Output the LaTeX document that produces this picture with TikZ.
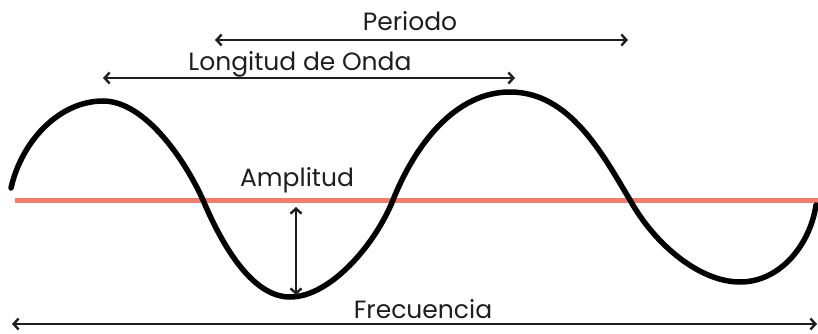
\documentclass[tikz,border=0pt]{standalone}
\usepackage{fontspec}
\setmainfont{Poppins}
\usetikzlibrary{arrows.meta}
\definecolor{salmon}{HTML}{F07E6E}
\definecolor{ink}{HTML}{1E1E1E}
\tikzset{
  dimarrow/.style={draw=ink, line width=2.2pt, {Straight Barb[length=5pt,width=11pt,line width=2.4pt]}-{Straight Barb[length=5pt,width=11pt,line width=2.4pt]}},
  lbl/.style={font=\fontsize{25}{28}\selectfont, text=ink, inner sep=0pt},
  wave/.style={draw=black, line width=5.5pt, line cap=round}
}
\begin{document}
\begin{tikzpicture}[x=1pt,y=-1pt]
\useasboundingbox (0,0) rectangle (818,334);
% baseline
\coordinate (rl) at (15,200);
\coordinate (rr) at (818,200);
\draw[salmon, line width=5pt] (rl) -- (rr);
% wave
\draw[wave] (11,188) .. controls (22,140) and (60,101) .. (103,101)
  .. controls (145,101) and (185,160) .. (203,200)
  .. controls (222,245) and (252,297) .. (290,297)
  .. controls (330,297) and (375,245) .. (393,200)
  .. controls (415,145) and (455,92) .. (510,92)
  .. controls (570,92) and (603,155) .. (630,200)
  .. controls (655,245) and (700,282) .. (740,282)
  .. controls (780,282) and (810,245) .. (816,205);
% arrows
\coordinate (pl) at (215,40); \coordinate (pr) at (628,40);
\coordinate (ll) at (103,78); \coordinate (lr) at (515,78);
\coordinate (at) at (296,207); \coordinate (ab) at (296,295);
\coordinate (fl) at (12,324); \coordinate (fr) at (817,324);
\draw[dimarrow] (pl) -- (pr);
\draw[dimarrow] (ll) -- (lr);
\draw[dimarrow] (at) -- (ab);
\draw[dimarrow] (fl) -- (fr);
% labels
\node[lbl] (tper) at (410,21) {Periodo};
\node[lbl] (tlon) at (300,64) {Longitud de Onda};
\node[lbl] (tamp) at (297,180) {Amplitud};
\node[lbl] (tfre) at (423,309) {Frecuencia};
\end{tikzpicture}
\end{document}
